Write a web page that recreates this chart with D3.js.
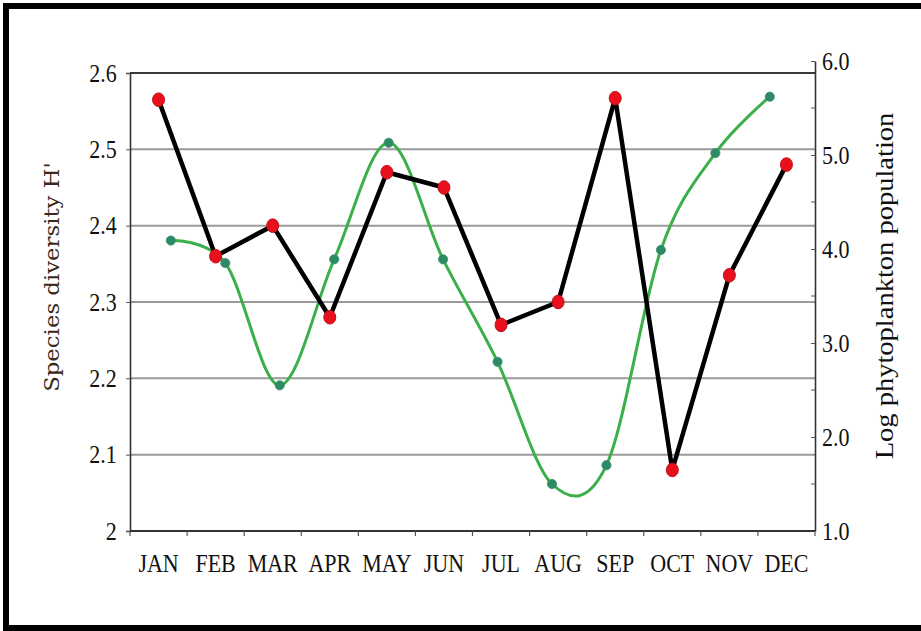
<!DOCTYPE html>
<html>
<head>
<meta charset="utf-8">
<script src="https://cdn.jsdelivr.net/npm/d3@7"></script>
<style>
  html, body { margin: 0; padding: 0; background: #fff; }
  svg { display: block; }
</style>
</head>
<body>
<div id="chart"></div>
<script>
// ---- data ----
const months = ["JAN","FEB","MAR","APR","MAY","JUN","JUL","AUG","SEP","OCT","NOV","DEC"];
const diversity = [2.565, 2.36, 2.40, 2.28, 2.47, 2.45, 2.27, 2.30, 2.567, 2.08, 2.335, 2.48];
const logPhyto = [4.09, 3.85, 2.55, 3.89, 5.13, 3.89, 2.80, 1.50, 1.70, 3.99, 5.02, 5.62];
const leftTicks = [2, 2.1, 2.2, 2.3, 2.4, 2.5, 2.6];
const leftTickLabels = ["2", "2.1", "2.2", "2.3", "2.4", "2.5", "2.6"];
const rightTicks = [1, 2, 3, 4, 5, 6];
const rightTickLabels = ["1.0", "2.0", "3.0", "4.0", "5.0", "6.0"];
const rightMinorTicks = [1.5, 2.5, 3.5, 4.5, 5.5];
const leftTitle = "Species diversity H'";
const rightTitle = "Log phytoplankton population";

// ---- layout ----
const W = 921, H = 631;
const m = {left: 130, top: 73, right: 106, bottom: 100};
const w = W - m.left - m.right;   // 685
const h = H - m.top - m.bottom;   // 458
const sx = 0.88; // glyph narrowing (reference text looks vertically stretched)

const svg = d3.select("#chart").append("svg").attr("width", W).attr("height", H);

// outer frame
svg.append("rect").attr("x", 6).attr("y", 6).attr("width", 940).attr("height", 622)
  .attr("fill", "none").attr("stroke", "#000").attr("stroke-width", 6);

const g = svg.append("g").attr("transform", `translate(${m.left},${m.top})`);

const x = d3.scaleBand().domain(months).range([0, w]);
const xg = d3.scaleLinear().domain([-0.75, 11.83]).range([0, w]);
const y = d3.scaleLinear().domain([2, 2.6]).range([h, 0]);
const y2 = d3.scaleLinear().domain([1, 6]).range([h, -12]);

const serif = "'Liberation Serif', 'Times New Roman', serif";

// gridlines
g.append("g").selectAll("line").data(leftTicks.filter(t => t > 2 && t < 2.6)).join("line")
  .attr("x1", 0).attr("x2", w).attr("y1", d => y(d)).attr("y2", d => y(d))
  .attr("stroke", "#9a9a9a").attr("stroke-width", 2);
// top border of plot
g.append("line").attr("x1", 0).attr("x2", w).attr("y1", y(2.6)).attr("y2", y(2.6))
  .attr("stroke", "#3a3a3a").attr("stroke-width", 2);

// left axis
const yAxis = d3.axisLeft(y).tickValues(leftTicks)
  .tickFormat((d, i) => leftTickLabels[i]).tickSize(4).tickPadding(11);
const ga = g.append("g").call(yAxis);
ga.select(".domain").attr("stroke", "#333").attr("stroke-width", 1.6);
ga.selectAll(".tick line").attr("stroke", "#555");
ga.selectAll("text").attr("font-family", serif).attr("font-size", 25).attr("fill", "#111")
  .attr("transform", `scale(${sx},1)`);

// right axis
const y2Axis = d3.axisRight(y2).tickValues(rightTicks)
  .tickFormat((d, i) => rightTickLabels[i]).tickSizeInner(-4).tickSizeOuter(0).tickPadding(8);
const gr = g.append("g").attr("transform", `translate(${w},0)`).call(y2Axis);
gr.select(".domain").attr("stroke", "#333").attr("stroke-width", 1.6);
gr.selectAll(".tick line").attr("stroke", "#555");
gr.selectAll("text").attr("font-family", serif).attr("font-size", 25).attr("fill", "#111")
  .attr("transform", `scale(${sx},1)`);
gr.append("g").selectAll("line").data(rightMinorTicks).join("line")
  .attr("x1", -4).attr("x2", 0).attr("y1", d => y2(d)).attr("y2", d => y2(d))
  .attr("stroke", "#555");

// bottom axis
g.append("line").attr("x1", 0).attr("x2", w).attr("y1", h).attr("y2", h)
  .attr("stroke", "#333").attr("stroke-width", 2);
const bounds = months.map(d => x(d)).concat([x(months[months.length - 1]) + x.bandwidth()]);
g.append("g").selectAll("line").data(bounds).join("line")
  .attr("x1", d => d).attr("x2", d => d).attr("y1", h).attr("y2", h + 5)
  .attr("stroke", "#555").attr("stroke-width", 1.2);
g.append("g").selectAll("text").data(months).join("text")
  .attr("transform", d => `translate(${x(d) + x.bandwidth() / 2},${h + 33}) scale(${sx},1)`)
  .attr("text-anchor", "middle").attr("dominant-baseline", "central")
  .attr("font-family", serif).attr("font-size", 25).attr("fill", "#111")
  .text(d => d);

// green smoothed series (secondary axis)
const lineG = d3.line().x((d, i) => xg(i)).y(d => y2(d)).curve(d3.curveCardinal.tension(0));
g.append("path").datum(logPhyto).attr("d", lineG)
  .attr("fill", "none").attr("stroke", "#3bb04a").attr("stroke-width", 3);
g.append("g").selectAll("circle").data(logPhyto).join("circle")
  .attr("cx", (d, i) => xg(i)).attr("cy", d => y2(d)).attr("r", 4.6)
  .attr("fill", "#2e8a62").attr("stroke", "#3a8f70").attr("stroke-width", 0.8);

// black diversity series
const lineB = d3.line().x(d => x(d.m) + x.bandwidth() / 2).y(d => y(d.v));
const divData = months.map((mo, i) => ({m: mo, v: diversity[i]}));
g.append("path").datum(divData).attr("d", lineB)
  .attr("fill", "none").attr("stroke", "#000").attr("stroke-width", 4.5)
  .attr("stroke-linejoin", "round");
g.append("g").selectAll("ellipse").data(divData).join("ellipse")
  .attr("cx", d => x(d.m) + x.bandwidth() / 2).attr("cy", d => y(d.v)).attr("rx", 6).attr("ry", 6.8)
  .attr("fill", "#e8101c").attr("stroke", "#c0101a").attr("stroke-width", 1);

// axis titles (rotated; elongated along the text like the reference)
svg.append("text")
  .attr("transform", `translate(52,${m.top + y(2.3) - 25}) rotate(-90) scale(1.14,1)`)
  .attr("text-anchor", "middle").attr("dominant-baseline", "central")
  .attr("font-family", "'DejaVu Serif', serif").attr("font-size", 20).attr("fill", "#3a2818")
  .text(leftTitle);
svg.append("text")
  .attr("transform", `translate(885,${m.top + y2(3.5) - 10}) rotate(-90) scale(1.14,1)`)
  .attr("text-anchor", "middle").attr("dominant-baseline", "central")
  .attr("font-family", serif).attr("font-size", 25).attr("fill", "#111")
  .text(rightTitle);
</script>
</body>
</html>
